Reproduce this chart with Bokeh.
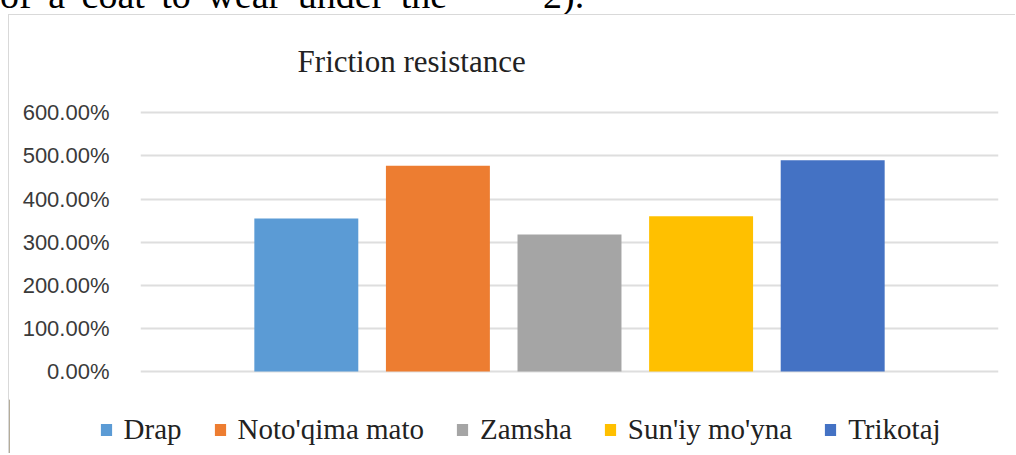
from bokeh.plotting import figure
from bokeh.models import (ColumnDataSource, Range1d, FixedTicker, NumeralTickFormatter,
                          Label, Div)
from bokeh.layouts import column, row
from bokeh.embed import file_html
from bokeh.resources import INLINE

# ---- data ----
title_text = "Friction  resistance"
categories = ["Drap", "Noto'qima mato", "Zamsha", "Sun'iy mo'yna", "Trikotaj"]
values = [3.55, 4.77, 3.18, 3.60, 4.90]          # fractions (355% ...)
colors = ["#5B9BD5", "#ED7D31", "#A5A5A5", "#FFC000", "#4472C4"]
y_ticks = [0, 1, 2, 3, 4, 5, 6]
doc_text_left = "of a coat to wear under the"
doc_text_right = "2)."

n = len(categories)
xs = [i - (n - 1) / 2 for i in range(n)]
src = ColumnDataSource(dict(x=xs, value=values, name=categories, color=colors))

BORDER = "1px solid #d9d9d9"

# ---- main chart ----
p = figure(width=1007, height=385, output_backend="svg", toolbar_location=None,
           x_range=Range1d(-3.26, 3.26), y_range=Range1d(-0.6726, 8.257),
           min_border_left=131, min_border_right=18, min_border_top=0, min_border_bottom=0,
           title=None, margin=(0, 0, 0, 8))
p.styles = {"border-top": BORDER, "border-left": BORDER}

p.vbar(x="x", top="value", width=0.79, fill_color="color", line_color=None, source=src)

p.xaxis.visible = False
p.xgrid.visible = False
p.outline_line_color = None

ya = p.yaxis[0]
ya.ticker = FixedTicker(ticks=y_ticks)
ya.formatter = NumeralTickFormatter(format="0.00%")
ya.axis_line_color = None
ya.major_tick_line_color = None
ya.minor_tick_line_color = None
ya.major_tick_out = 0
ya.major_label_standoff = 31
ya.major_label_text_font = "Liberation Sans"
ya.major_label_text_font_size = "22px"
ya.major_label_text_color = "#3a3a3a"

p.ygrid.ticker = FixedTicker(ticks=y_ticks)
p.ygrid.grid_line_color = "#dedede"
p.ygrid.grid_line_width = 2

p.add_layout(Label(x=275, y=339, x_units="screen", y_units="screen", text=title_text,
                   text_font="Liberation Serif", text_font_size="31px", text_color="#222222",
                   text_align="center", text_baseline="alphabetic"))

# ---- legend strip (same series, drawn outside its view) ----
pl = figure(width=1007, height=54, output_backend="svg", toolbar_location=None,
            x_range=Range1d(100, 101), y_range=Range1d(0, 1),
            min_border_left=0, min_border_right=0, min_border_top=0, min_border_bottom=0,
            title=None, margin=(0, 0, 0, 8))
pl.styles = {"border-left": BORDER}
pl.vbar(x="x", top="value", width=0.79, fill_color="color", line_color=None,
        legend_field="name", source=src)
pl.axis.visible = False
pl.grid.visible = False
pl.outline_line_color = None

lg = pl.legend[0]
lg.orientation = "horizontal"
lg.location = (89.6, 7.5)
lg.glyph_width = 14
lg.glyph_height = 15
lg.label_standoff = 11
lg.spacing = 31
lg.padding = 0
lg.margin = 0
lg.border_line_color = None
lg.background_fill_alpha = 0
lg.label_text_font = "Liberation Serif"
lg.label_text_font_size = "29px"
lg.label_text_color = "#222222"

# ---- cropped line of the surrounding document ----
span_style = ("position:absolute;top:-24px;font-family:'Liberation Serif';font-size:38px;"
              "line-height:38px;white-space:nowrap;color:#000;")
top = Div(text=(
    '<div style="position:relative;width:1016px;height:14px;overflow:hidden;">'
    '<span style="left:0px;word-spacing:7px;' + span_style + '">' + doc_text_left + '</span>'
    '<span style="left:543px;' + span_style + '">' + doc_text_right + '</span></div>'),
    width=1016, height=14, margin=0, styles={"overflow": "hidden"})

layout = column(top, row(p, spacing=0), row(pl, spacing=0), spacing=0)
open("out.html", "w").write(file_html(layout, INLINE))
